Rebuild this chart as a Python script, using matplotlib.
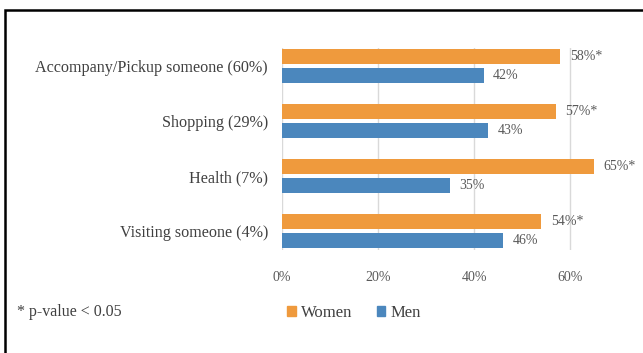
import matplotlib
matplotlib.use("Agg")
import matplotlib.pyplot as plt
from matplotlib.patches import Rectangle, Patch
import numpy as np

categories = ["Accompany/Pickup someone (60%)", "Shopping (29%)", "Health (7%)", "Visiting someone (4%)"]
women = [58, 57, 65, 54]
men = [42, 43, 35, 46]
women_labels = ["58%*", "57%*", "65%*", "54%*"]
men_labels = ["42%", "43%", "35%", "46%"]
xticks = [0, 20, 40, 60]
xtick_labels = ["0%", "20%", "40%", "60%"]

plt.rcParams['font.family'] = ['Liberation Serif', 'DejaVu Serif']

W, H = 643, 353
fig = plt.figure(figsize=(W/100, H/100), dpi=100)
fig.patch.set_facecolor("white")

ax = fig.add_axes([282/W, 1-250/H, (618-282)/W, (250-48)/H])
orange = "#EF9A3D"
blue = "#4B87BD"
y = np.arange(len(categories))
off = 0.173
h = 0.273
ax.barh(y - off, women, height=h, color=orange, zorder=3)
ax.barh(y + off, men, height=h, color=blue, zorder=3)
ax.set_ylim(3.345, -0.327)
ax.set_xlim(0, 70)
ax.set_xticks(xticks)
ax.set_xticklabels(xtick_labels, color="#595959", fontsize=10)
ax.set_yticks(y)
ax.set_yticklabels(categories, fontsize=11.65, color="#404040")
ax.tick_params(axis='both', length=0)
ax.tick_params(axis='y', pad=10)
ax.tick_params(axis='x', pad=15)
for s in ax.spines.values():
    s.set_visible(False)
ax.grid(axis='x', color="#D9D9D9", linewidth=1, zorder=0)
ax.set_axisbelow(True)

for i in range(len(categories)):
    ax.text(women[i] + 2.0, y[i] - off, women_labels[i], va='center', ha='left', fontsize=10, color="#595959")
    ax.text(men[i] + 2.0, y[i] + off, men_labels[i], va='center', ha='left', fontsize=10, color="#595959")

fig.text(17/W, 1-312/H, "* p-value < 0.05", fontsize=11.5, color="#404040", va='center', ha='left')
handles = [Patch(color=orange, label="Women"), Patch(color=blue, label="Men")]
fig.legend(handles=handles, loc='center', bbox_to_anchor=(354/W, 1-313/H), ncol=2, frameon=False,
           fontsize=12, handlelength=0.5, handleheight=0.5, handletextpad=0.3, columnspacing=1.5,
           labelcolor="#404040")

fig.add_artist(Rectangle((5/W, -0.1), 1.2, 1-10/H + 0.1, transform=fig.transFigure, fill=False,
                         edgecolor="black", linewidth=1.8))

fig.savefig("out.png", dpi=100)
